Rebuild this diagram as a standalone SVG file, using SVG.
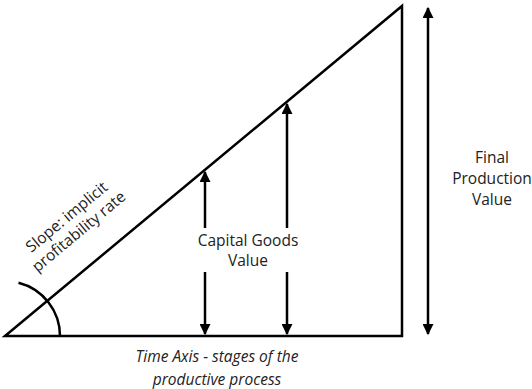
<svg xmlns="http://www.w3.org/2000/svg" width="532" height="389" viewBox="0 0 532 389">
<style>
.ln{stroke:#000;stroke-width:2.5;fill:none}
.ar{stroke:#000;stroke-width:2.5;fill:none}
text{font-family:"Open Sans","Noto Sans",sans-serif;font-size:15.5px;fill:#222;text-anchor:middle}
.it{font-style:italic}
</style>
<defs>
<marker id="ah" viewBox="0 0 10 10" refX="9" refY="5" markerWidth="4.4" markerHeight="4.4" orient="auto-start-reverse" markerUnits="strokeWidth">
<path d="M0,0 L10,5 L0,10 Z" fill="#000"/>
</marker>
</defs>
<rect width="532" height="389" fill="#fff"/>
<g id="triangle">
<path class="ln" d="M5,336 L402,6 L402,336 Z" stroke-linejoin="miter"/>
</g>
<g id="angle">
<path class="ln" d="M60,336 A55,55 0 0 0 18.5,282.7"/>
</g>
<g id="connectors">
<line class="ar" x1="205" y1="228" x2="205" y2="172" marker-end="url(#ah)"/>
<line class="ar" x1="205" y1="272" x2="205" y2="334" marker-end="url(#ah)"/>
<line class="ar" x1="287" y1="228" x2="287" y2="104" marker-end="url(#ah)"/>
<line class="ar" x1="287" y1="272" x2="287" y2="334" marker-end="url(#ah)"/>
<line class="ar" x1="428" y1="8" x2="428" y2="334" marker-start="url(#ah)" marker-end="url(#ah)"/>
</g>
<g id="capital-goods-label">
<text x="248" y="246">Capital Goods</text>
<text x="248" y="266">Value</text>
</g>
<g id="final-production-label">
<text x="492" y="163">Final</text>
<text x="492" y="184">Production</text>
<text x="492" y="205">Value</text>
</g>
<g id="time-axis-label">
<text class="it" x="217" y="362">Time Axis - stages of the</text>
<text class="it" x="217" y="385">productive process</text>
</g>
<g id="slope-label" transform="translate(70,221) rotate(-39.7)">
<text x="0" y="0">Slope: implicit</text>
<text x="0" y="19">profitability rate</text>
</g>
</svg>
